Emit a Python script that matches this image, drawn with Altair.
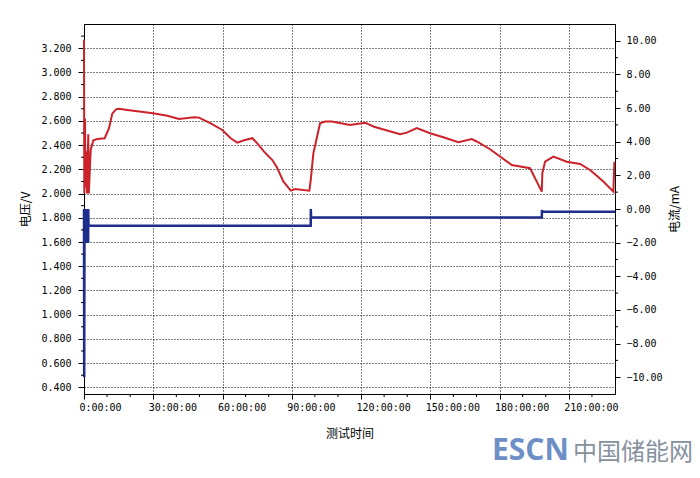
import altair as alt
import pandas as pd

# ---- data ----
volt_hours = [0.0, 0.13, 0.43, 0.65, 0.87, 1.30, 1.86, 2.08, 2.90, 4.03, 5.76, 8.97, 10.83, 12.26,
              13.86, 15.16, 18.76, 29.89, 36.09, 41.15, 47.65, 49.82, 54.89, 59.91, 63.55, 66.41,
              69.31, 72.91, 75.07, 77.98, 81.57, 83.48, 86.34, 89.54, 91.41, 97.60, 98.21, 99.33,
              102.24, 104.40, 107.30, 115.23, 121.73, 125.63, 136.89, 139.80, 144.13, 149.89,
              155.65, 162.15, 167.95, 170.12, 175.88, 185.28, 193.21, 198.28, 198.54, 199.71,
              203.30, 209.11, 214.87, 219.20, 224.96, 229.30, 229.73]
volt_values = [3.27, 2.00, 2.62, 2.05, 2.35, 2.00, 2.49, 2.00, 2.36, 2.44, 2.45, 2.457, 2.54, 2.66,
               2.695, 2.70, 2.69, 2.663, 2.643, 2.616, 2.63, 2.627, 2.58, 2.525, 2.457, 2.42,
               2.44, 2.457, 2.415, 2.346, 2.277, 2.22, 2.10, 2.024, 2.038, 2.024, 2.11, 2.33,
               2.58, 2.594, 2.594, 2.566, 2.585, 2.552, 2.49, 2.503, 2.54, 2.498,
               2.465, 2.424, 2.45, 2.43, 2.366, 2.236, 2.209, 2.016, 2.17, 2.263,
               2.305, 2.263, 2.244, 2.195, 2.10, 2.016, 2.263]

curr_hours = [0.0, 0.08, 0.2, 0.8, 0.85, 0.9, 1.8, 1.85, 1.95, 98.2, 98.25, 98.35,
              198.3, 198.35, 198.5, 230.0]
curr_values = [0.0, -10.0, -1.95, -1.95, 0.0, -1.95, -1.95, 0.0, -1.0, -1.0, 0.0, -0.5,
               -0.5, -0.06, -0.16, -0.16]

x_ticks = [0, 30, 60, 90, 120, 150, 180, 210]
x_minor = [10, 20, 40, 50, 70, 80, 100, 110, 130, 140, 160, 170, 190, 200, 220]
v_ticks = [0.4, 0.6, 0.8, 1.0, 1.2, 1.4, 1.6, 1.8, 2.0, 2.2, 2.4, 2.6, 2.8, 3.0, 3.2]
v_minor = [0.5, 0.7, 0.9, 1.1, 1.3, 1.5, 1.7, 1.9, 2.1, 2.3, 2.5, 2.7, 2.9, 3.1, 3.3]
i_ticks = [-10, -8, -6, -4, -2, 0, 2, 4, 6, 8, 10]
i_minor = [-9, -7, -5, -3, -1, 1, 3, 5, 7, 9]

W, H = 531, 370
MONO = "DejaVu Sans Mono"
CJK = "Noto Sans CJK SC"

xscale = alt.Scale(domain=[0, 230], nice=False, zero=False)
vscale = alt.Scale(domain=[0.345, 3.40], nice=False, zero=False)
iscale = alt.Scale(domain=[-11, 11], nice=False, zero=False)

volt_df = pd.DataFrame({"h": volt_hours, "v": volt_values, "k": list(range(len(volt_hours)))})
curr_df = pd.DataFrame({"h": curr_hours, "i": curr_values, "k": list(range(len(curr_hours)))})

common = dict(domainColor="#000", tickColor="#000", labelColor="#000", labelFont=MONO,
              labelFontSize=10, titleFont=CJK, titleFontSize=12, titleFontWeight="normal",
              titleColor="#000", labelFlush=False, labelOverlap=False)

x_axis = alt.Axis(values=x_ticks, labelExpr="datum.value + ':00:00'", title="测试时间",
                  grid=True, gridDash=[1, 2], gridColor="#000", gridOpacity=1, tickSize=5,
                  labelAlign="left", labelOffset=-5, labelPadding=3,
                  titleX=W / 2, titleY=39, titleAlign="center", titleBaseline="middle", **common)

v_axis = alt.Axis(orient="left", values=v_ticks, format=".3f", title="电压/V",
                  grid=True, gridDash=[1, 2], gridColor="#000", gridOpacity=1, tickSize=6,
                  labelPadding=7, titleAngle=270, titleX=-59, titleY=H / 2,
                  titleAlign="center", titleBaseline="middle", **common)

i_axis = alt.Axis(orient="right", values=i_ticks, format=".2f", title="电流/mA",
                  grid=False, tickSize=5, labelPadding=6, titleAngle=270, titleX=59,
                  titleY=H / 2, titleAlign="center", titleBaseline="middle", **common)

X = alt.X("h:Q", scale=xscale, axis=x_axis)

volt_line = alt.Chart(volt_df).mark_line(color="#cc2229", strokeWidth=2).encode(
    x=X,
    y=alt.Y("v:Q", scale=vscale, axis=v_axis),
    order="k:Q",
)

curr_line = alt.Chart(curr_df).mark_line(color="#1f2d8c", strokeWidth=2.5).encode(
    x=X,
    y=alt.Y("i:Q", scale=iscale, axis=i_axis),
    order="k:Q",
)

left_minor = alt.Chart(pd.DataFrame({"v": v_minor})).mark_rule(color="#000", strokeWidth=1).encode(
    y=alt.Y("v:Q", scale=vscale, axis=None), x=alt.value(-3), x2=alt.value(0))

right_minor = alt.Chart(pd.DataFrame({"i": i_minor})).mark_rule(color="#000", strokeWidth=1).encode(
    y=alt.Y("i:Q", scale=iscale, axis=None), x=alt.value(W), x2=alt.value(W + 3))

bottom_minor = alt.Chart(pd.DataFrame({"h": x_minor})).mark_rule(color="#000", strokeWidth=1).encode(
    x=X, y=alt.value(H), y2=alt.value(H + 3))

wm1 = alt.Chart(pd.DataFrame({"t": ["ESCN"]})).mark_text(
    font="Open Sans", fontSize=30, fontWeight="bold", color="#6d8fc6",
    align="left", baseline="alphabetic").encode(
    x=alt.value(408), y=alt.value(436), text="t:N")

wm2 = alt.Chart(pd.DataFrame({"t": ["中国储能网"]})).mark_text(
    font=CJK, fontSize=24, color="#85919e", align="left", baseline="alphabetic").encode(
    x=alt.value(489), y=alt.value(436), text="t:N")

chart = alt.layer(volt_line, curr_line, left_minor, right_minor, bottom_minor, wm1, wm2).resolve_scale(
    y="independent"
).properties(
    width=W, height=H,
    autosize=alt.AutoSizeParams(type="none"),
    padding={"left": 76, "top": 16, "right": 77, "bottom": 76},
    background="white",
).configure_view(stroke="#000", strokeWidth=1)

chart.save("out.html", embed_options={"renderer": "svg", "actions": False})
